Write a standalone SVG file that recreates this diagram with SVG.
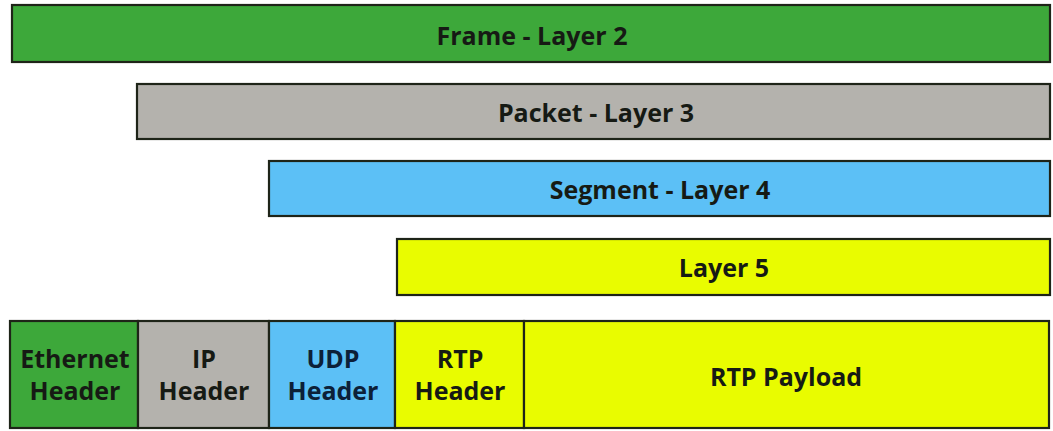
<svg xmlns="http://www.w3.org/2000/svg" width="1053" height="431" viewBox="0 0 1053 431">
<style>
.b{stroke:#1e2418;stroke-width:2.2}
.g{fill:#3da83a}.gr{fill:#b4b2ad}.bl{fill:#5cc0f6}.y{fill:#e9fc00}
text{font-family:"Open Sans","Noto Sans","Liberation Sans",sans-serif;font-weight:bold;text-anchor:middle;fill:#161a14}
.l{font-size:25px}.h{font-size:25px}
</style>
<rect width="1053" height="431" fill="#ffffff"/>
<g id="frame"><rect class="b g" x="12" y="5" width="1038" height="57"/><text class="l" x="532" y="45">Frame - Layer 2</text></g>
<g id="packet"><rect class="b gr" x="137" y="84" width="913" height="55"/><text class="l" x="596" y="122">Packet - Layer 3</text></g>
<g id="segment"><rect class="b bl" x="269" y="161" width="781" height="55"/><text class="l" x="660" y="199">Segment - Layer 4</text></g>
<g id="layer5"><rect class="b y" x="397" y="239" width="653" height="56"/><text class="l" x="724" y="277">Layer 5</text></g>
<g id="ethernet"><rect class="b g" x="10" y="321" width="128" height="107"/><text class="h" x="75" y="368">Ethernet</text><text class="h" x="75" y="400">Header</text></g>
<g id="ip"><rect class="b gr" x="138" y="321" width="131" height="107"/><text class="h" x="204" y="368">IP</text><text class="h" x="204" y="400">Header</text></g>
<g id="udp"><rect class="b bl" x="269" y="321" width="126" height="107"/><text class="h" x="333" y="368" style="fill:#0c2038">UDP</text><text class="h" x="333" y="400" style="fill:#0c2038">Header</text></g>
<g id="rtp-header"><rect class="b y" x="395" y="321" width="129" height="107"/><text class="h" x="460" y="368">RTP</text><text class="h" x="460" y="400">Header</text></g>
<g id="rtp-payload"><rect class="b y" x="524" y="321" width="525" height="107"/><text class="h" x="786" y="386">RTP Payload</text></g>
<g id="connectors"></g>
</svg>
